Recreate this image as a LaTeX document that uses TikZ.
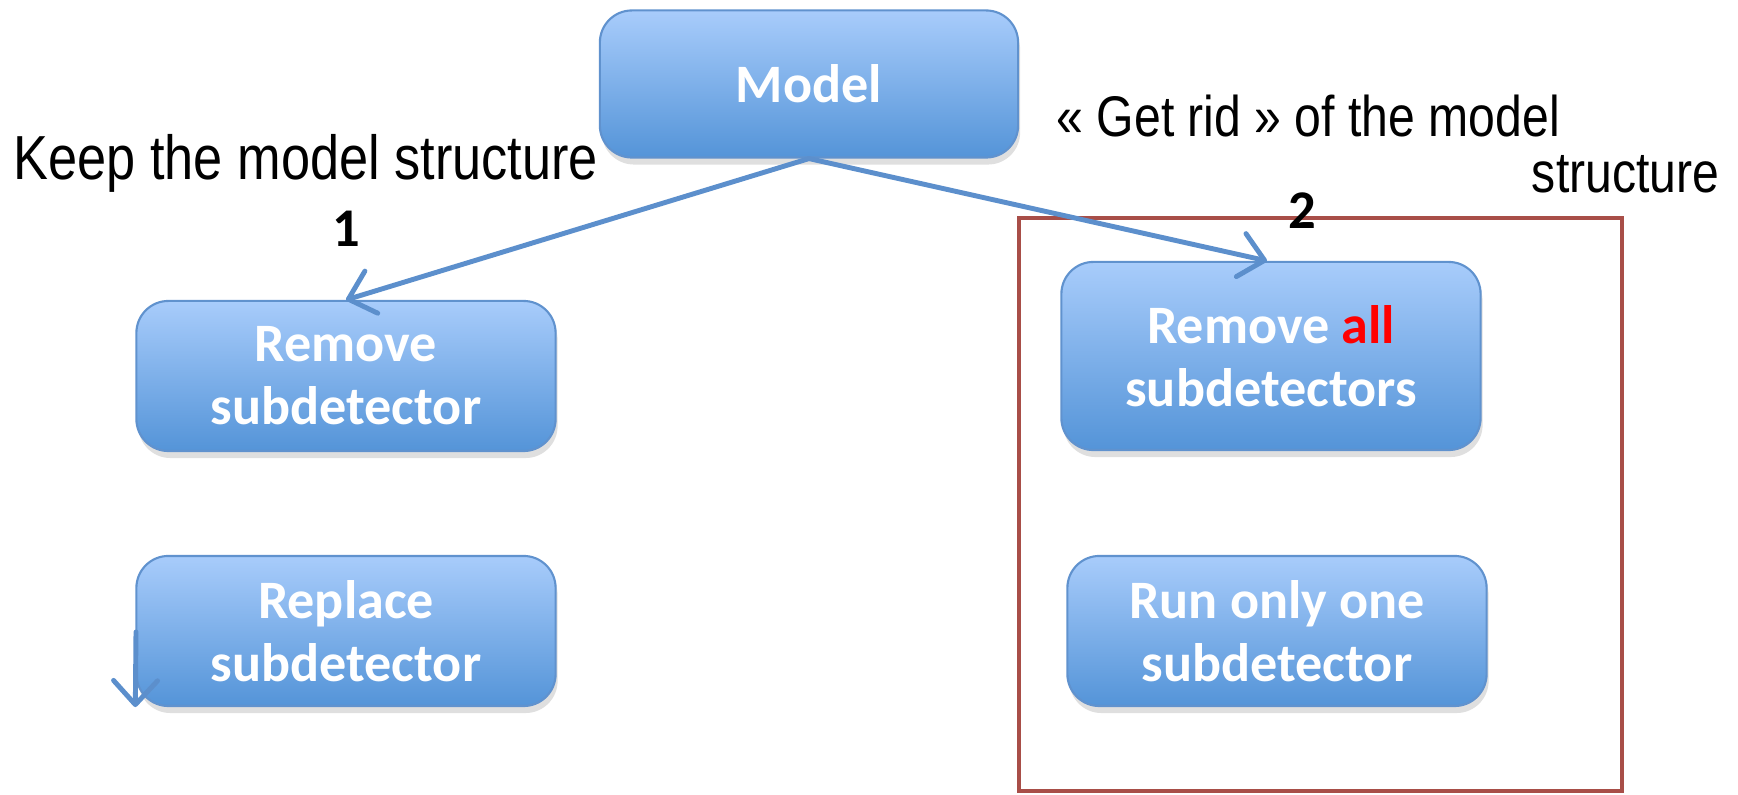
\documentclass[tikz,border=0pt]{standalone}
\usepackage{fontspec}
\setmainfont{Carlito}
\newfontfamily\arialfont[FakeStretch=0.84]{Liberation Sans}
\usetikzlibrary{arrows.meta,shadows}
\definecolor{boxtop}{RGB}{168,204,251}
\definecolor{boxbottom}{RGB}{84,148,216}
\definecolor{boxline}{RGB}{96,146,206}
\definecolor{arrowblue}{RGB}{92,143,204}
\definecolor{framered}{RGB}{168,78,72}
\def\modelpos{(809,84)}
\def\remsubpos{(346,376)}
\def\repsubpos{(346,631)}
\def\remallpos{(1271,356)}
\def\runonepos{(1277,631)}
\def\choiceframe{(1019,218) rectangle (1622,791)}

\begin{document}
\begin{tikzpicture}[x=0.01cm,y=-0.01cm,
	actionbox/.style={draw=boxline,line width=0.6pt,rounded corners=0.32cm,
		top color=boxtop,bottom color=boxbottom,
		drop shadow={shadow xshift=0.02cm,shadow yshift=-0.07cm,opacity=0.25},
		minimum width=4.19cm,minimum height=1.5cm,align=center,text=white,
		font=\fontsize{15.4}{17.9}\selectfont\bfseries},
	link/.style={draw=arrowblue,line width=1.4pt,line cap=round,
		-{Straight Barb[length=0.24cm,width=0.44cm,line cap=round,line join=round]}},
	remark/.style={inner sep=0pt,font=\arialfont\fontsize{17.7}{21}\selectfont},
	tag/.style={inner sep=0pt,font=\fontsize{15.5}{18}\selectfont\bfseries}]
	\useasboundingbox (0,0) rectangle (1738,795);
	\draw[framered,line width=1.4pt] \choiceframe;
	\node[actionbox,minimum width=4.18cm,minimum height=1.47cm] (model) at \modelpos {Model};
	\node[actionbox] (remsub) at \remsubpos {Remove\\subdetector};
	\node[actionbox] (repsub) at \repsubpos {Replace\\subdetector};
	\node[actionbox,minimum height=1.88cm] (remall) at \remallpos {Remove \textcolor{red}{all}\\subdetectors};
	\node[actionbox] (runone) at \runonepos {Run only one\\subdetector};
	\node[remark,anchor=base west] (keep) at (13,180) {Keep the model structure};
	\node[remark,anchor=base west,font=\arialfont\fontsize{16.3}{19}\selectfont] (getrid) at (1056,137) {« Get rid » of the model};
	\node[remark,anchor=base east,font=\arialfont\fontsize{16.3}{19}\selectfont] (getridb) at (1720,193) {structure};
	\node[tag] (one) at (346,229) {1};
	\node[tag] (two) at (1302,211) {2};
	\coordinate (stray) at (136,632);
	\draw[link] (model.south) -- (remsub.north);
	\draw[link] (model.south) -- ([xshift=-0.04cm]remall.north);
	\draw[link] (stray) -- (repsub.south west);
\end{tikzpicture}
\end{document}
